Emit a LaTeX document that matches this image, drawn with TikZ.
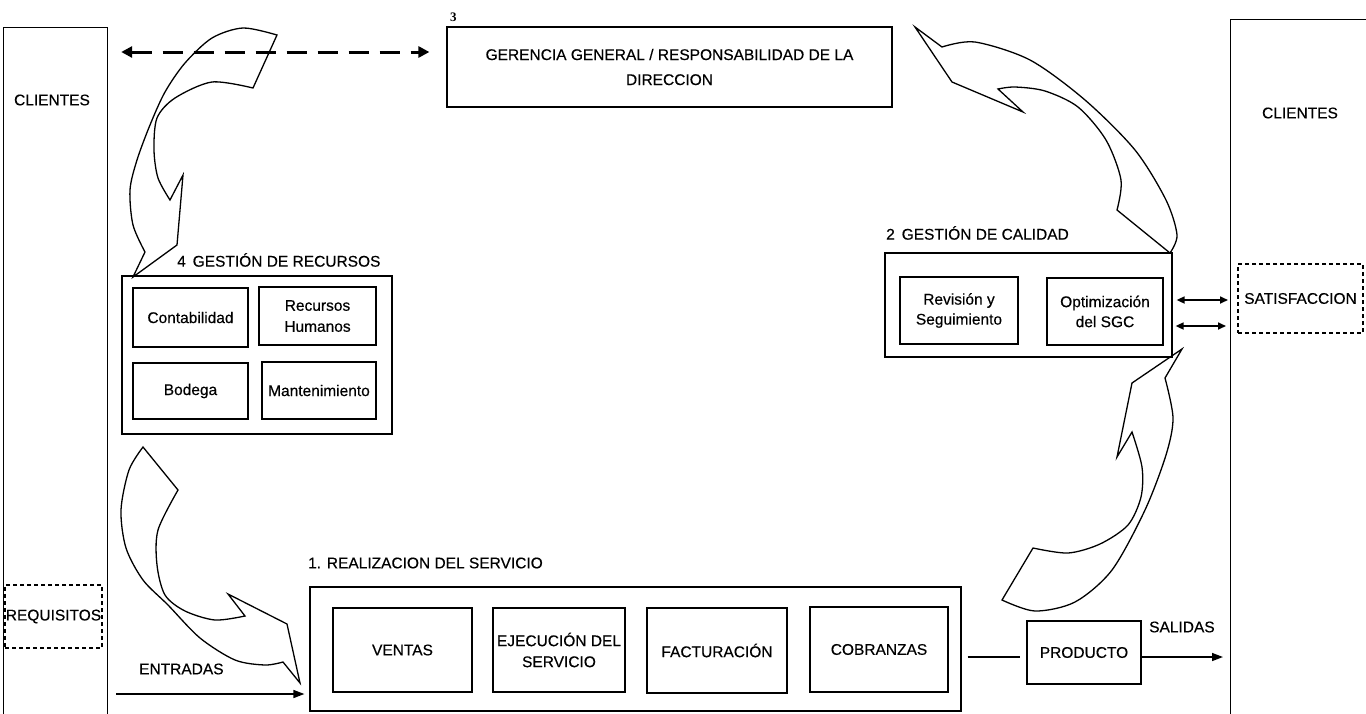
\documentclass[tikz,border=0pt]{standalone}
\usepackage{fontspec}
\setmainfont{Liberation Sans}[FakeBold=0.4]
\newfontfamily\numfont{Liberation Serif}
\usetikzlibrary{arrows.meta}

\tikzset{
  box/.style={draw, line width=1.2pt, inner sep=0pt, align=center,
              font=\fontsize{15.5}{21}\selectfont},
  dashbox/.style={box, line width=1.2pt, dash pattern=on 4pt off 3pt},
  lbl/.style={inner sep=0pt, anchor=west, font=\fontsize{15.5}{18}\selectfont},
  txt/.style={inner sep=0pt, font=\fontsize{15.5}{18}\selectfont},
  link/.style={line width=1.4pt},
  arr/.style={link, -{Triangle[length=11pt,width=8pt]}},
  dblarr/.style={line width=1.6pt, {Triangle[length=8pt,width=7pt]}-{Triangle[length=8pt,width=7pt]}},
  dasharrow/.style={line width=3pt, dash pattern=on 20pt off 11pt,
                    {Triangle[length=11pt,width=11pt]}-{Triangle[length=11pt,width=11pt]}},
  cyclearrow/.style={draw, line width=1.3pt, line join=miter}
}

\begin{document}
\begin{tikzpicture}[x=1pt, y=-1pt]
\useasboundingbox (0,0) rectangle (1366,713);

% customer columns (open at the bottom, running off the page)
\node[draw, line width=1.2pt, minimum width=104pt, minimum height=740pt,
      anchor=north west] (cliL) at (3,27) {};
\node[txt] (cliLt) at (52,100) {CLIENTES};
\node[draw, line width=1.2pt, minimum width=160pt, minimum height=740pt,
      anchor=north west] (cliR) at (1230,19) {};
\node[txt] (cliRt) at (1300,113) {CLIENTES};

\node[dashbox, minimum width=97pt, minimum height=63pt] (req) at (53.5,616.5) {REQUISITOS};
\node[dashbox, minimum width=125pt, minimum height=69pt] (sat) at (1300.5,298.5) {SATISFACCION};

% 3: management
\node[box, minimum width=445pt, minimum height=80pt,
      font=\fontsize{15.5}{25}\selectfont] (ger) at (669.5,67)
      {GERENCIA GENERAL / RESPONSABILIDAD DE LA\\DIRECCION};
\node[inner sep=0pt, anchor=west, font=\numfont\bfseries\fontsize{13}{15}\selectfont] (gerN) at (450,17) {3};

% 4: resources
\node[lbl] (recL) at (177,260) {4\, GESTIÓN DE RECURSOS};
\node[box, minimum width=270pt, minimum height=158pt] (rec) at (257,355) {};
\node[box, minimum width=115pt, minimum height=59pt] (cont) at (190.5,317.5) {Contabilidad};
\node[box, minimum width=117pt, minimum height=58pt] (rrhh) at (317.5,316) {Recursos\\Humanos};
\node[box, minimum width=115pt, minimum height=56pt] (bod) at (190.5,391) {Bodega};
\node[box, minimum width=114pt, minimum height=57pt] (mant) at (319,390.5) {Mantenimiento};

% 2: quality
\node[lbl] (calL) at (886,233) {2\, GESTIÓN DE CALIDAD};
\node[box, minimum width=287pt, minimum height=104pt] (cal) at (1028.5,305) {};
\node[box, minimum width=118pt, minimum height=67pt,
      font=\fontsize{15.5}{20}\selectfont] (rev) at (959,310.5) {Revisión y\\Seguimiento};
\node[box, minimum width=116pt, minimum height=67pt,
      font=\fontsize{15.5}{20}\selectfont] (opt) at (1105,311.5) {Optimización\\del SGC};

% 1: service delivery
\node[lbl] (proL) at (308,563) {1. REALIZACION DEL SERVICIO};
\node[box, minimum width=651pt, minimum height=124pt] (proc) at (635.5,649) {};
\node[box, minimum width=139pt, minimum height=84pt] (ven) at (402.5,650) {VENTAS};
\node[box, minimum width=132pt, minimum height=84pt] (eje) at (559,650) {EJECUCIÓN DEL\\SERVICIO};
\node[box, minimum width=140pt, minimum height=85pt] (fac) at (717,650.5) {FACTURACIÓN};
\node[box, minimum width=138pt, minimum height=85pt] (cob) at (879,649.5) {COBRANZAS};

\node[box, line width=1.1pt, minimum width=114pt, minimum height=63pt] (prod) at (1084,652.5) {PRODUCTO};

\node[txt, anchor=west] (entT) at (139,669) {ENTRADAS};
\node[txt, anchor=west] (salT) at (1149,627) {SALIDAS};

% connectors
\coordinate (dashy) at (0,52);
\draw[dasharrow, shorten <=13pt, shorten >=17pt] (cliL.east |- dashy) -- (ger.west |- dashy);

\coordinate (entIn) at (116,694);
\draw[arr, shorten >=5pt] (entIn) -- (proc.west |- entIn);

\coordinate (outy) at (0,657);
\draw[link, shorten <=6pt, shorten >=6pt] (proc.east |- outy) -- (prod.west |- outy);
\draw[arr, shorten >=7pt] (prod.east |- outy) -- (cliR.west |- outy);

\coordinate (d1) at (0,300);
\coordinate (d2) at (0,326);
\draw[dblarr, shorten <=4pt, shorten >=2pt] (cal.east |- d1) -- (cliR.west |- d1);
\draw[dblarr, shorten <=3pt, shorten >=4pt] (cal.east |- d2) -- (cliR.west |- d2);

% curved block arrows of the cycle
% management -> resources
\draw[cyclearrow] plot[smooth] coordinates {(277,35) (243,28) (212,38) (185,63) (165,92) (150,125) (137,160) (130,190) (133,225) (145,252)}
  -- (133,277) -- (177,245) -- (183,175) -- (170,200)
  -- plot[smooth] coordinates {(170,200) (158,178) (154,150) (157,118) (175,98) (212,82) (253,88)}
  -- cycle;

% resources -> service delivery
\draw[cyclearrow] plot[smooth] coordinates {(143,447) (129,470) (121,510) (126,548) (143,580) (168,605) (200,638) (235,660) (265,665) (283,662)}
  -- (300,683) -- (287,624) -- (228,594) -- (245,616)
  -- plot[smooth] coordinates {(245,616) (215,620) (185,611) (165,595) (157,565) (158,530) (178,490)}
  -- cycle;

% service delivery -> quality
\draw[cyclearrow] plot[smooth] coordinates {(1002,600) (1035,611) (1075,602) (1112,570) (1145,510) (1166,455) (1173,418) (1165,378)}
  -- (1182,349) -- (1132,383) -- (1117,457) -- (1132,432)
  -- plot[smooth] coordinates {(1132,432) (1142,467) (1141,497) (1128,525) (1100,544) (1068,553) (1033,548)}
  -- cycle;

% quality -> management
\draw[cyclearrow] plot[smooth] coordinates {(942,47) (975,42) (1030,60) (1085,100) (1135,150) (1166,200) (1177,235) (1170,253)}
  -- (1117,210)
  -- plot[smooth] coordinates {(1117,210) (1121,180) (1106,140) (1078,107) (1045,91) (1015,87) (998,89)}
  -- (1023,112) -- (952,82) -- (915,27) -- cycle;
\end{tikzpicture}
\end{document}
